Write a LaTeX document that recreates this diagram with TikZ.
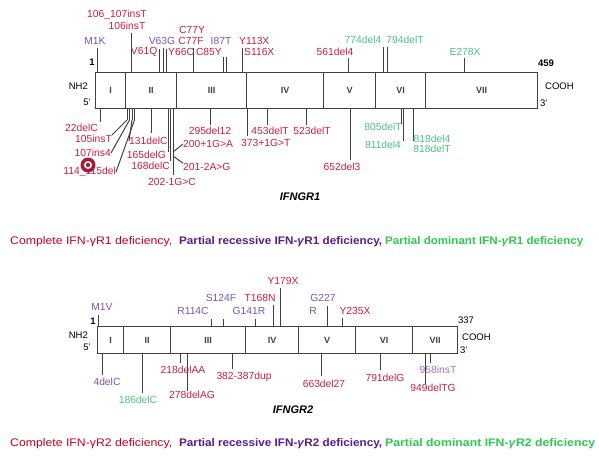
\documentclass[tikz,border=0pt]{standalone}
\usepackage{fontspec}
\setmainfont{Liberation Sans}
\definecolor{cr}{HTML}{C81E40}
\definecolor{cp}{HTML}{7A55A8}
\definecolor{cpl}{HTML}{A070D0}
\definecolor{cg}{HTML}{4CBF80}
\definecolor{lr}{HTML}{C00020}
\definecolor{lp}{HTML}{5A1A8C}
\definecolor{lg}{HTML}{30C850}
\definecolor{ln}{HTML}{404040}
\newcommand\tk[4]{\coordinate (#1u) at (#2,#3); \coordinate (#1d) at (#2,#4); \draw[tkl] (#1u) -- (#1d);}
\begin{document}
\begin{tikzpicture}[x=1pt,y=-1pt,
 lab/.style={font=\fontsize{10.3}{11}\selectfont, inner sep=0pt},
 R/.style={lab, text=cr}, P/.style={lab, text=cp}, PL/.style={lab, text=cpl}, G/.style={lab, text=cg},
 exon/.style={draw=ln, line width=1.1pt, inner sep=0pt, anchor=north west, font=\fontsize{9}{10}\selectfont\bfseries, text=ln},
 tkl/.style={draw=ln, line width=1pt},
 term/.style={font=\fontsize{9.5}{10}\selectfont, inner sep=0pt, text=black},
 title/.style={font=\fontsize{11}{12}\selectfont\bfseries\itshape, inner sep=0pt},
 leg/.style={font=\fontsize{11}{12}\selectfont, inner sep=0pt, anchor=base west}]
\useasboundingbox (0,0) rectangle (599,455);
% ---------------- IFNGR1 bar
\node[exon, minimum width=30pt, minimum height=36pt] (e1) at (95,72) {I};
\node[exon, minimum width=51pt, minimum height=36pt] (e2) at (125,72) {II};
\node[exon, minimum width=70pt, minimum height=36pt] (e3) at (176,72) {III};
\node[exon, minimum width=77pt, minimum height=36pt] (e4) at (246,72) {IV};
\node[exon, minimum width=52pt, minimum height=36pt] (e5) at (323,72) {V};
\node[exon, minimum width=50pt, minimum height=36pt] (e6) at (375,72) {VI};
\node[exon, minimum width=112pt, minimum height=36pt] (e7) at (425,72) {VII};
\node[term, font=\fontsize{9.5}{10}\selectfont\bfseries] (one1) at (92,62) {1};
\node[term, font=\fontsize{9.5}{10}\selectfont\bfseries] (end1) at (546,63) {459};
\node[term, anchor=east] (nh1) at (88,86) {NH2};
\node[term, anchor=east] (fp1) at (91,102) {5'};
\node[term, anchor=west] (co1) at (545,86) {COOH};
\node[term, anchor=west] (tp1) at (540,103) {3'};
% top labels
\node[P] (m1k) at (95,41) {M1K}; \tk{t1}{97}{48}{72}
\node[R] (r1) at (117,15) {106\_107insT};
\node[R] (r2) at (127,26) {106insT}; \tk{t2}{131}{33}{72}
\node[P] (v63g) at (162,41) {V63G};
\node[R, anchor=east] (v61q) at (157.5,52) {V61Q};
\node[R, anchor=west] (y66c) at (168,52) {Y66C};
\tk{t3}{159.5}{49}{72} \tk{t4}{163}{48}{72} \tk{t5}{166.5}{49}{72}
\node[R] (c77y) at (192,30) {C77Y};
\node[R] (c77f) at (191,41) {C77F}; \tk{t6}{193}{48}{72}
\node[P] (i87t) at (221,41) {I87T};
\node[R, anchor=east] (c85y) at (222,52) {C85Y};
\tk{t7}{223.5}{57}{72} \tk{t8}{226}{57}{72}
\node[R, anchor=west] (y113x) at (239,41) {Y113X};
\node[R, anchor=west] (s116x) at (244,52) {S116X}; \tk{t9}{242}{48}{72}
\node[R] (d561) at (335,52) {561del4}; \tk{t10}{348}{58}{72}
\node[G] (d774) at (363,40) {774del4};
\node[G] (d794) at (405,40) {794delT};
\tk{t11}{383}{47}{72} \tk{t12}{387}{47}{72}
\node[G] (e278x) at (465,52) {E278X}; \tk{t13}{464}{58}{72}
% bottom labels
\node[R, anchor=east] (d22) at (98,128) {22delC}; \tk{b1}{100}{108}{122}
\node[R, anchor=east] (i105) at (112,139) {105insT};
\node[R, anchor=east] (i107) at (111,153) {107ins4};
\node[R, anchor=east] (d114) at (116,172) {114\_115del};
\tk{b2}{127}{108}{120} \tk{b3}{129.5}{108}{120} \tk{b4}{132}{108}{120} \tk{b5}{134.5}{108}{120}
\draw[tkl] (b2d) -- (i105.north east);
\draw[tkl] (b3d) -- (i107.east);
\draw[tkl] (b5d) -- (d114.east);
\node[R, anchor=west] (d131) at (129,141) {131delC}; \tk{b6}{151}{108}{133}
\draw[tkl] (b4d) -- (d131.west);
\node[R, anchor=east] (d165) at (166,155) {165delG}; \tk{b7}{168}{108}{152}
\node[R, anchor=east] (d168) at (170,165.5) {168delC}; \tk{b8}{170.5}{108}{161}
\node[R] (s202) at (172,182) {202-1G>C}; \tk{b9}{173}{108}{175}
\node[R, anchor=west] (s200) at (183,144) {200+1G>A};
\node[R, anchor=west] (s201) at (183,167) {201-2A>G};
\coordinate (b9m) at (173,152); \coordinate (b9n) at (173,156);
\draw[tkl] (b9m) -- (s200.west);
\draw[tkl] (b9n) -- (s201.north west);
\node[R] (d295) at (210,131) {295del12}; \tk{b10}{210}{108}{125}
\node[R, anchor=west] (s373) at (241,143) {373+1G>T}; \tk{b11}{247}{108}{136}
\node[R] (d453) at (270,131) {453delT}; \tk{b12}{267}{108}{125}
\node[R] (d523) at (312,131) {523delT}; \tk{b13}{306}{108}{125}
\node[R] (d652) at (342,167) {652del3}; \tk{b14}{350}{108}{160}
\node[G] (d805) at (383,127) {805delT}; \tk{b15}{401}{108}{124}
\node[G] (d811) at (383,145) {811del4}; \tk{b16}{403.5}{108}{141}
\node[G] (d818a) at (432,139) {818del4};
\node[G] (d818b) at (432,149) {818delT}; \tk{b17}{413}{108}{141}
\node[title] (g1) at (300,197) {IFNGR1};
% record marker
\fill[cr!85!black] (88,165) circle (7.5);
\fill[white] (88,165) circle (4);
\fill[cr!85!black] (88,165) circle (2.2);
% legend 1
\node[leg, text=lr] (l1a) at (10,244) {\resizebox{162pt}{\height}{Complete IFN-γR1 deficiency,}};
\node[leg, text=lp, font=\fontsize{11}{12}\selectfont\bfseries] (l1b) at (179,244) {\resizebox{203pt}{\height}{Partial recessive IFN-\textit{γ}R1 deficiency,}};
\node[leg, text=lg, font=\fontsize{11}{12}\selectfont\bfseries] (l1c) at (385,244) {\resizebox{198pt}{\height}{Partial dominant IFN-\textit{γ}R1 deficiency}};
% ---------------- IFNGR2 bar
\node[exon, minimum width=26pt, minimum height=27pt] (f1) at (97,326) {I};
\node[exon, minimum width=47pt, minimum height=27pt] (f2) at (123,326) {II};
\node[exon, minimum width=75pt, minimum height=27pt] (f3) at (170,326) {III};
\node[exon, minimum width=53pt, minimum height=27pt] (f4) at (245,326) {IV};
\node[exon, minimum width=57pt, minimum height=27pt] (f5) at (298,326) {V};
\node[exon, minimum width=57pt, minimum height=27pt] (f6) at (355,326) {VI};
\node[exon, minimum width=45pt, minimum height=27pt] (f7) at (412,326) {VII};
\node[term, font=\fontsize{9.5}{10}\selectfont\bfseries] (one2) at (93,321) {1};
\node[term] (end2) at (466,320) {337};
\node[term, anchor=east] (nh2) at (88,335) {NH2};
\node[term, anchor=east] (fp2) at (91,347) {5'};
\node[term, anchor=west] (co2) at (462,337) {COOH};
\node[term, anchor=west] (tp2) at (460,350) {3'};
% top
\node[P] (m1v) at (102,307) {M1V}; \tk{u1}{98}{315}{326}
\node[P] (r114c) at (193,311) {R114C}; \tk{u2}{211}{319}{326}
\node[P] (s124f) at (221,298) {S124F}; \tk{u3}{223}{319}{326}
\node[P] (g141r) at (249,311) {G141R}; \tk{u4}{255}{319}{326}
\node[R] (t168n) at (260,298) {T168N}; \tk{u5}{273}{305}{326}
\node[R] (y179x) at (283,281) {Y179X}; \tk{u6}{280}{288}{326}
\node[P] (g227) at (323,298) {G227};
\node[P] (g227r) at (313,311) {R}; \tk{u7}{327}{306}{326}
\node[R] (y235x) at (355,311) {Y235X}; \tk{u8}{342}{318}{326}
% bottom
\node[P] (d4) at (107,382) {4delC}; \tk{v1}{102}{353}{375}
\node[G] (d186) at (138,400) {186delC}; \tk{v2}{142}{353}{393}
\node[R] (d218) at (183,370) {218delAA}; \tk{v3}{180}{353}{363} \tk{v4}{187}{353}{363}
\node[R] (d278) at (192,395) {278delAG};
\draw[tkl] (v4d) -- (d278.north -| v4d);
\node[R] (dup) at (244,377) {382-387dup}; \tk{v5}{232}{353}{369}
\node[R] (d663) at (324,384) {663del27}; \tk{v6}{321}{353}{376}
\node[R] (d791) at (385,378) {791delG}; \tk{v7}{380}{353}{370}
\node[PL] (i958) at (438,370) {958insT}; \tk{v8}{425}{353}{363} \tk{v9}{430}{353}{363}
\node[R] (d949) at (433,388) {949delTG};
\draw[tkl] (v8d) -- (d949.north -| v8d);
\node[title] (g2) at (293,410) {IFNGR2};
% legend 2
\node[leg, text=lr] (l2a) at (10,446) {\resizebox{162pt}{\height}{Complete IFN-γR2 deficiency,}};
\node[leg, text=lp, font=\fontsize{11}{12}\selectfont\bfseries] (l2b) at (179,446) {\resizebox{203pt}{\height}{Partial recessive IFN-\textit{γ}R2 deficiency,}};
\node[leg, text=lg, font=\fontsize{11}{12}\selectfont\bfseries] (l2c) at (385,446) {\resizebox{210pt}{\height}{Partial dominant IFN-\textit{γ}R2 deficiency}};
\end{tikzpicture}
\end{document}
